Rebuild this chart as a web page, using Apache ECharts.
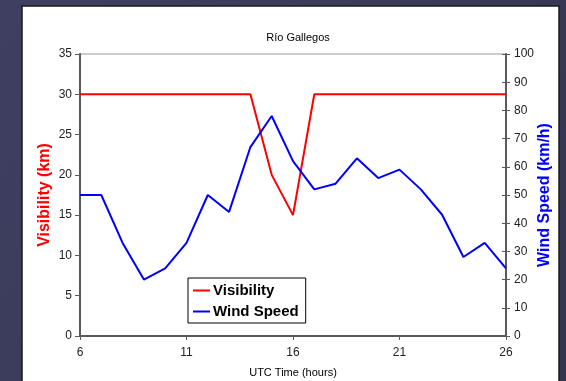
<!DOCTYPE html>
<html><head><meta charset="utf-8">
<script src="https://cdn.jsdelivr.net/npm/echarts@6/dist/echarts.min.js"></script>
<style>html,body{margin:0;padding:0;background:#3c3c5e;}#c{width:566px;height:381px;}</style>
</head><body><div id="c"></div>
<script>
const hours = [6,7,8,9,10,11,12,13,14,15,16,17,18,19,20,21,22,23,24,25,26];
const visibility = [30,30,30,30,30,30,30,30,30,20,15,30,30,30,30,30,30,30,30,30,30];
const windSpeed = [50,50,33,20,24,33,50,44,67,78,62,52,54,63,56,59,52,43,28,33,24];
const xTicks = [6,11,16,21,26];
const leftTicks = [0,5,10,15,20,25,30,35];
const rightTicks = [0,10,20,30,40,50,60,70,80,90,100];

const chart = echarts.init(document.getElementById('c'));
const font = 'Liberation Sans, Arial, sans-serif';
const axisCol = '#5a5a5a';
chart.setOption({
  animation: false,
  backgroundColor: {type:'linear',x:0,y:0,x2:1,y2:1,colorStops:[{offset:0,color:'#3f3f62'},{offset:1,color:'#35354f'}]},
  graphic: [{type:'rect', z:-10, shape:{x:22,y:6,width:537,height:380}, style:{fill:'#ffffff', stroke:'#1a1a1a', lineWidth:1.5}}],
  title: {text:'Río Gallegos', left:293, top:27, textAlign:'center', textStyle:{fontFamily:font, fontSize:11, fontWeight:'normal', color:'#000'}},
  grid: {left:80, right:60, top:54, bottom:45, show:true, borderColor:'#999', borderWidth:1, containLabel:false, outerBoundsMode:'none'},
  legend: {
    left:188, top:278, orient:'vertical', itemGap:6, padding:[5,7,4,5],
    borderColor:'#000', borderWidth:1, backgroundColor:'#fff',
    itemWidth:17, itemHeight:2, icon:'rect',
    textStyle:{fontFamily:font, fontSize:15, fontWeight:'bold', color:'#000', padding:[0,0,0,-2]},
    data:['Visibility','Wind Speed']
  },
  xAxis: {
    type:'value', min:xTicks[0], max:xTicks[xTicks.length-1], interval:5,
    name:'UTC Time (hours)', nameLocation:'middle', nameGap:31, nameMoveOverlap:false,
    nameTextStyle:{fontFamily:font, fontSize:11, color:'#000'},
    axisLine:{lineStyle:{color:axisCol, width:2}},
    axisTick:{show:true, length:4, lineStyle:{color:axisCol}},
    axisLabel:{fontFamily:font, fontSize:12, color:'#222', margin:11},
    splitLine:{show:false}
  },
  yAxis: [
    {type:'value', min:leftTicks[0], max:leftTicks[leftTicks.length-1], interval:5, position:'left',
     name:'Visibility (km)', nameLocation:'middle', nameGap:27, nameRotate:90, nameMoveOverlap:false,
     nameTextStyle:{fontFamily:font, fontSize:16, fontWeight:'bold', color:'#ff0000'},
     axisLine:{show:true, lineStyle:{color:axisCol, width:2}},
     axisTick:{show:true, length:5, lineStyle:{color:axisCol}},
     axisLabel:{fontFamily:font, fontSize:12, color:'#222', margin:8},
     splitLine:{show:false}},
    {type:'value', min:rightTicks[0], max:rightTicks[rightTicks.length-1], interval:10, position:'right',
     name:'Wind Speed (km/h)', nameLocation:'middle', nameGap:31, nameRotate:90, nameMoveOverlap:false,
     nameTextStyle:{fontFamily:font, fontSize:16, fontWeight:'bold', color:'#0000ff'},
     axisLine:{show:true, lineStyle:{color:axisCol, width:2}},
     axisTick:{show:true, length:4, lineStyle:{color:axisCol}},
     axisLabel:{fontFamily:font, fontSize:12, color:'#222', margin:8},
     splitLine:{show:false}},
    {type:'value', min:rightTicks[0], max:rightTicks[rightTicks.length-1], interval:10, position:'right',
     axisLine:{show:false}, axisTick:{show:true, inside:true, length:4, lineStyle:{color:axisCol}},
     axisLabel:{show:false}, splitLine:{show:false}}
  ],
  series: [
    {name:'Visibility', type:'line', yAxisIndex:0, symbol:'none', color:'#ff0000',
     lineStyle:{color:'#ff0000', width:2}, data: hours.map((h,i)=>[h, visibility[i]])},
    {name:'Wind Speed', type:'line', yAxisIndex:1, symbol:'none', color:'#0000ff',
     lineStyle:{color:'#0000ff', width:2}, data: hours.map((h,i)=>[h, windSpeed[i]])}
  ]
});
</script></body></html>
